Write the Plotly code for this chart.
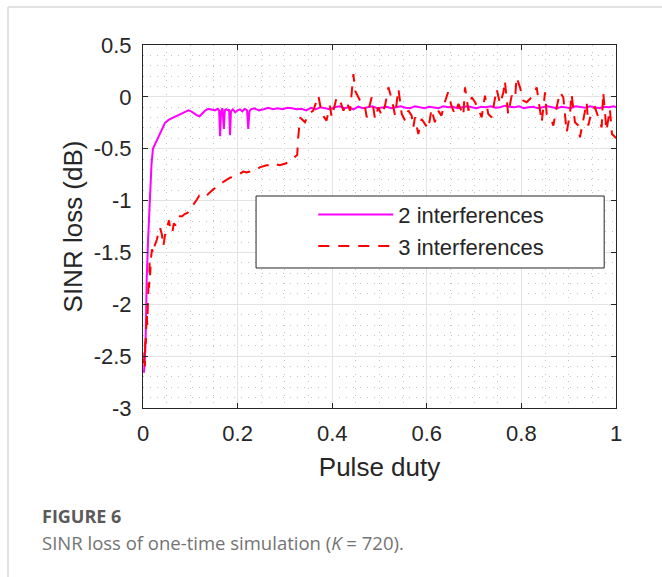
import plotly.graph_objects as go

# ---------------- data ----------------
mag_x = [0.002, 0.004, 0.006, 0.0078, 0.011, 0.0148, 0.018, 0.021, 0.025, 0.029, 0.034,
         0.0395, 0.0465, 0.055, 0.064, 0.071, 0.078, 0.086, 0.092, 0.096, 0.102, 0.110,
         0.115, 0.120, 0.126, 0.132, 0.138, 0.145, 0.152, 0.158, 0.161, 0.163, 0.165,
         0.168, 0.171, 0.173, 0.176, 0.180, 0.182, 0.184, 0.186, 0.190, 0.195, 0.200,
         0.205, 0.210, 0.215, 0.220, 0.2225, 0.225, 0.228, 0.235, 0.245, 0.255, 0.265,
         0.275, 0.285, 0.295, 0.305, 0.315, 0.325, 0.335, 0.345, 0.355, 0.365, 0.375,
         0.385, 0.395, 0.405, 0.415, 0.425, 0.435, 0.445, 0.455, 0.465, 0.475, 0.485,
         0.495, 0.505, 0.515, 0.525, 0.535, 0.545, 0.555, 0.565, 0.575, 0.585, 0.595,
         0.605, 0.615, 0.625, 0.635, 0.645, 0.655, 0.665, 0.675, 0.685, 0.695, 0.705,
         0.715, 0.725, 0.735, 0.745, 0.755, 0.765, 0.775, 0.785, 0.795, 0.805, 0.815,
         0.825, 0.835, 0.845, 0.855, 0.865, 0.875, 0.885, 0.895, 0.905, 0.915, 0.925,
         0.935, 0.945, 0.955, 0.965, 0.975, 0.985, 0.995, 1.0]
mag_y = [-2.66, -2.52, -2.25, -1.76, -1.35, -0.95, -0.65, -0.50, -0.46, -0.43, -0.37,
         -0.31, -0.25, -0.22, -0.20, -0.18, -0.165, -0.15, -0.14, -0.13, -0.14, -0.165,
         -0.18, -0.185, -0.155, -0.13, -0.115, -0.125, -0.13, -0.115, -0.13, -0.38, -0.14,
         -0.11, -0.31, -0.13, -0.12, -0.13, -0.12, -0.37, -0.14, -0.12, -0.15, -0.13,
         -0.12, -0.14, -0.115, -0.13, -0.31, -0.14, -0.12, -0.11, -0.13, -0.12, -0.105,
         -0.12, -0.11, -0.12, -0.105, -0.11, -0.12, -0.115, -0.13, -0.105, -0.12, -0.10,
         -0.11, -0.12, -0.10, -0.09, -0.11, -0.10, -0.12, -0.095, -0.11, -0.10, -0.09,
         -0.11, -0.10, -0.095, -0.11, -0.10, -0.09, -0.105, -0.11, -0.09, -0.10, -0.11,
         -0.095, -0.10, -0.11, -0.09, -0.10, -0.095, -0.11, -0.10, -0.09, -0.10, -0.11,
         -0.095, -0.10, -0.09, -0.105, -0.10, -0.085, -0.095, -0.10, -0.09, -0.11, -0.10,
         -0.095, -0.11, -0.10, -0.09, -0.10, -0.11, -0.095, -0.10, -0.11, -0.09, -0.10,
         -0.105, -0.09, -0.10, -0.11, -0.095, -0.10, -0.09, -0.10]

red_x = [0.002, 0.003, 0.004, 0.005, 0.006, 0.007, 0.008, 0.009, 0.010, 0.011, 0.012,
         0.013, 0.014, 0.015, 0.017, 0.019, 0.022, 0.025, 0.029, 0.033, 0.036, 0.040,
         0.043, 0.047, 0.051, 0.055, 0.058, 0.062, 0.065, 0.069, 0.073, 0.078, 0.083,
         0.088, 0.094, 0.099, 0.104, 0.109, 0.114, 0.119, 0.125, 0.131, 0.137, 0.143,
         0.149, 0.156, 0.163, 0.170, 0.177, 0.184, 0.191, 0.198, 0.205, 0.212, 0.219,
         0.226, 0.233, 0.240, 0.247, 0.254, 0.261, 0.268, 0.275, 0.282, 0.289, 0.296,
         0.303, 0.310, 0.316, 0.322, 0.326, 0.328, 0.330, 0.332,
         0.3355, 0.3425, 0.3496, 0.360, 0.3707, 0.378, 0.388, 0.395, 0.399, 0.4095,
         0.4166, 0.4237, 0.4307, 0.4378, 0.4448, 0.4483, 0.4554, 0.4624, 0.4695, 0.473,
         0.4835, 0.4906, 0.4976, 0.5047, 0.5117, 0.5188, 0.5258, 0.5329, 0.540, 0.547,
         0.554, 0.561, 0.568, 0.5715, 0.575, 0.582, 0.589, 0.596, 0.6032, 0.610, 0.617,
         0.624, 0.631, 0.638, 0.645, 0.652, 0.659, 0.667, 0.6772, 0.6808, 0.688, 0.695,
         0.702, 0.709, 0.716, 0.723, 0.730, 0.737, 0.744, 0.7477, 0.7548, 0.762, 0.765,
         0.772, 0.7795, 0.7865, 0.790, 0.797, 0.804, 0.811, 0.818, 0.8253, 0.8323, 0.839,
         0.843, 0.850, 0.8534, 0.864, 0.8675, 0.8745, 0.8816, 0.8886, 0.8957, 0.9027,
         0.906, 0.9133, 0.9203, 0.9238, 0.931, 0.938, 0.9415, 0.9486, 0.9556, 0.9627,
         0.9697, 0.973, 0.980, 0.987, 0.9915, 0.9986, 1.0]
red_y = [-2.57, -2.46, -2.60, -2.30, -2.38, -2.22, -2.08, -2.20, -1.92, -1.98, -1.75,
         -1.84, -1.60, -1.72, -1.55, -1.47, -1.51, -1.43, -1.38, -1.30, -1.26, -1.33,
         -1.44, -1.32, -1.25, -1.19, -1.28, -1.31, -1.22, -1.24, -1.17, -1.15, -1.15,
         -1.13, -1.12, -1.09, -1.05, -1.02, -0.99, -0.95, -0.96, -0.97, -0.94, -0.91,
         -0.89, -0.87, -0.84, -0.82, -0.80, -0.78, -0.77, -0.75, -0.74, -0.72, -0.73,
         -0.72, -0.70, -0.70, -0.68, -0.67, -0.66, -0.66, -0.67, -0.65, -0.66, -0.65,
         -0.64, -0.62, -0.60, -0.58, -0.56, -0.40, -0.28, -0.20,
         -0.213, -0.245, -0.165, -0.133, 0.012, -0.165, -0.229, -0.085, -0.197, -0.004,
         -0.036, -0.133, -0.052, -0.133, 0.22, 0.06, -0.004, -0.068, -0.101, -0.197,
         -0.004, -0.213, -0.101, -0.181, -0.085, 0.092, -0.02, -0.181, 0.076, -0.165,
         -0.229, -0.133, -0.181, -0.294, -0.197, -0.358, -0.213, -0.261, -0.31, -0.117, -0.245,
         -0.133, -0.181, -0.052, 0.044, -0.085, -0.165, -0.068, -0.181, 0.092, -0.133, -0.004,
         -0.052, -0.117, -0.197, 0.012, -0.165, -0.197, -0.036, 0.076, -0.068, 0.044, 0.157,
         -0.165, 0.012, -0.02, 0.189, 0.092, -0.036, -0.052, -0.02, 0.012, 0.092, -0.133,
         -0.245, 0.044, -0.165, -0.229, -0.277, -0.101, 0.044, -0.004, -0.342, -0.165,
         0.028, -0.245, -0.277, -0.39, -0.229, -0.052, -0.277, -0.133, -0.101, -0.197,
         -0.294, 0.044, -0.326, -0.117, -0.358, -0.39, -0.40]

x_ticks = [0, 0.2, 0.4, 0.6, 0.8, 1]
x_ticklabels = ["0", "0.2", "0.4", "0.6", "0.8", "1"]
y_ticks = [0.5, 0, -0.5, -1, -1.5, -2, -2.5, -3]
y_ticklabels = ["0.5", "0", "-0.5", "-1", "-1.5", "-2", "-2.5", "-3"]

series_names = ["2 interferences", "3 interferences"]

# ---------------- figure ----------------
AX_FONT = "Liberation Sans, Arial, sans-serif"
fig = go.Figure()
fig.add_trace(go.Scatter(x=mag_x, y=mag_y, mode="lines", name=series_names[0],
                         line=dict(color="#ff00ff", width=2)))
fig.add_trace(go.Scatter(x=red_x, y=red_y, mode="lines", name=series_names[1],
                         line=dict(color="#ff0000", width=2, dash="11px,9px")))

axis_common = dict(
    showline=True, linecolor="#262626", linewidth=1, mirror="ticks",
    ticks="inside", ticklen=5, tickcolor="#262626",
    showgrid=True, gridcolor="#e3e3e3", gridwidth=1,
    zeroline=False,
    tickfont=dict(family=AX_FONT, size=22, color="#262626"),
)

fig.update_xaxes(
    range=[0, 1], tickvals=x_ticks, ticktext=x_ticklabels,
    ticklabelstandoff=6,
    title=dict(text="Pulse duty", font=dict(family=AX_FONT, size=26, color="#262626"),
               standoff=12),
    minor=dict(dtick=0.05, showgrid=True, gridcolor="#c4c4c4", griddash="1px,6px",
               gridwidth=1, ticks=""),
    **axis_common,
)
fig.update_yaxes(
    range=[-3, 0.5], tickvals=y_ticks, ticktext=y_ticklabels,
    ticklabelstandoff=6,
    title=dict(text="SINR loss (dB)", font=dict(family=AX_FONT, size=26, color="#262626"),
               standoff=3),
    minor=dict(dtick=0.1, showgrid=True, gridcolor="#c4c4c4", griddash="1px,6px",
               gridwidth=1, ticks=""),
    **axis_common,
)

# legend box (MATLAB-style fixed box)
fig.add_shape(type="rect", xref="x", yref="y", x0=0.239, x1=0.975, y0=-1.65, y1=-0.956,
              line=dict(color="#262626", width=1), fillcolor="white", layer="above")

fig.update_layout(
    width=662, height=577,
    margin=dict(l=143, r=46, t=45, b=169),
    paper_bgcolor="white", plot_bgcolor="white",
    showlegend=True,
    legend=dict(x=0.36, y=0.5905, xanchor="left", yanchor="top",
                bgcolor="rgba(0,0,0,0)", borderwidth=0,
                font=dict(family=AX_FONT, size=22, color="#262626"),
                itemwidth=75, tracegroupgap=0),
)

# page border lines (caption frame)
fig.add_shape(type="line", xref="paper", yref="paper", x0=-0.2854, x1=1.2, y0=1.1047, y1=1.1047,
              line=dict(color="#d9d9d9", width=1.5))
fig.add_shape(type="line", xref="paper", yref="paper", x0=-0.2854, x1=-0.2854, y0=1.1047, y1=-0.5,
              line=dict(color="#d9d9d9", width=1.5))

# caption
fig.add_annotation(xref="paper", yref="paper", x=-0.2175, y=(408 - 516) / 363,
                   xanchor="left", yanchor="middle", showarrow=False,
                   text="<b>FIGURE 6</b>",
                   font=dict(family="Open Sans, sans-serif", size=18, color="#5a5a5a"))
fig.add_annotation(xref="paper", yref="paper", x=-0.2175, y=(408 - 542) / 363,
                   xanchor="left", yanchor="middle", showarrow=False,
                   text="SINR loss of one-time simulation (<i>K</i> = 720).",
                   font=dict(family="Open Sans, sans-serif", size=18.5, color="#737373"))

fig.write_html("out.html")
